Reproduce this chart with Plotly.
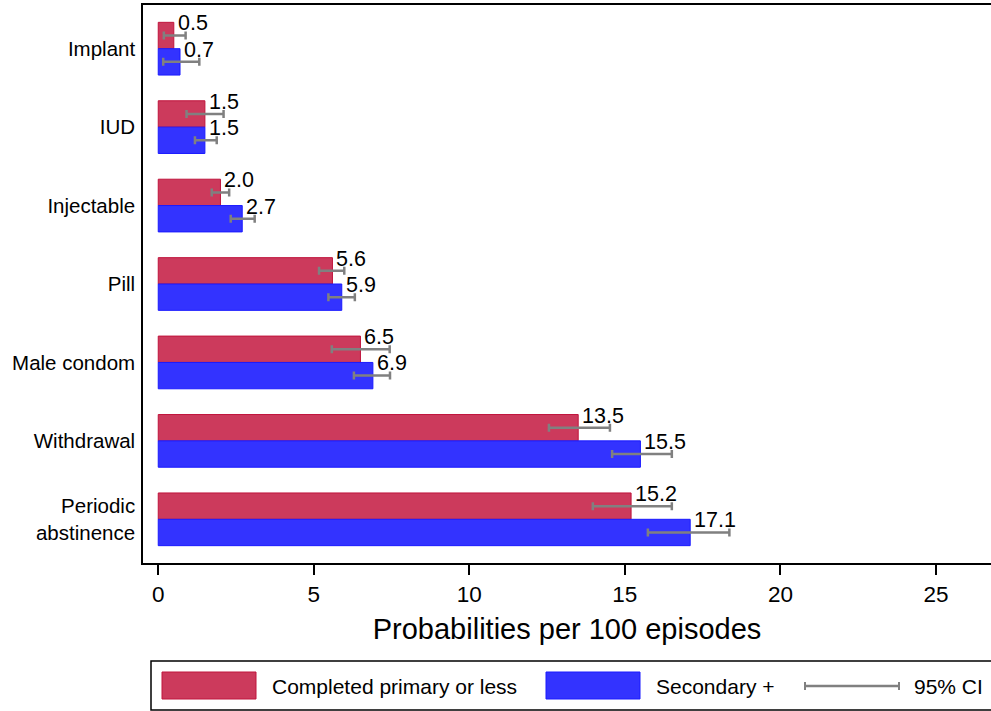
import plotly.graph_objects as go

# Contraceptive methods, top to bottom
methods = ["Implant", "IUD", "Injectable", "Pill", "Male condom", "Withdrawal",
           "Periodic<br>abstinence"]

# Completed primary or less
primary_val = [0.5, 1.5, 2.0, 5.6, 6.5, 13.5, 15.2]
primary_lo = [0.18, 0.91, 1.72, 5.17, 5.58, 12.56, 13.97]
primary_hi = [0.88, 2.10, 2.28, 5.98, 7.44, 14.52, 16.51]

# Secondary +
secondary_val = [0.7, 1.5, 2.7, 5.9, 6.9, 15.5, 17.1]
secondary_lo = [0.16, 1.18, 2.33, 5.47, 6.29, 14.59, 15.74]
secondary_hi = [1.32, 1.88, 3.10, 6.32, 7.45, 16.51, 18.36]

x_ticks = [0, 5, 10, 15, 20, 25]

RED_FILL, RED_EDGE = "#CC3A5C", "#C0143C"
BLUE_FILL, BLUE_EDGE = "#3333FF", "#1A1AFF"
CI_GREY = "#808080"
FONT = "Arial, Liberation Sans, sans-serif"

W, H = 991, 711
ML, MR, MT, MB = 143, 0, 5, 148
BAR_W = 0.336

pos = list(range(len(methods)))

fig = go.Figure()


def add_series(vals, lo, hi, fill, edge, offset, name):
    fig.add_trace(go.Bar(
        y=pos, x=vals, orientation="h", name=name,
        width=BAR_W, offset=offset,
        marker=dict(color=fill, line=dict(color=edge, width=1)),
        error_x=dict(type="data", symmetric=False,
                     array=[h - v for h, v in zip(hi, vals)],
                     arrayminus=[v - l for v, l in zip(vals, lo)],
                     color=CI_GREY, thickness=2.5, width=4),
        showlegend=False, hoverinfo="skip",
    ))


add_series(primary_val, primary_lo, primary_hi, RED_FILL, RED_EDGE, -BAR_W,
           "Completed primary or less")
add_series(secondary_val, secondary_lo, secondary_hi, BLUE_FILL, BLUE_EDGE, 0,
           "Secondary +")

# value labels sitting at the top edge of each bar's end
annotations = []
for i, v in enumerate(primary_val):
    annotations.append(dict(x=v, y=i - BAR_W, text=f"{v:.1f}", showarrow=False,
                            xanchor="left", yanchor="middle", xshift=2, yshift=-1,
                            font=dict(size=21.5, color="black", family=FONT)))
for i, v in enumerate(secondary_val):
    annotations.append(dict(x=v, y=i, text=f"{v:.1f}", showarrow=False,
                            xanchor="left", yanchor="middle", xshift=2, yshift=-1,
                            font=dict(size=21.5, color="black", family=FONT)))

# legend panel below the plot, laid out in pixel units
pw, ph = W - ML - MR, H - MT - MB


def px_x(p):
    return (p - ML) / pw


def px_y(p):
    return (H - MB - p) / ph


shapes = [
    dict(type="rect", xref="paper", yref="paper",
         x0=px_x(151), x1=px_x(1000), y0=px_y(661), y1=px_y(710),
         line=dict(color="black", width=1.5), fillcolor="white", layer="below"),
    dict(type="rect", xref="paper", yref="paper",
         x0=px_x(162), x1=px_x(256), y0=px_y(672), y1=px_y(699),
         line=dict(color=RED_EDGE, width=1), fillcolor=RED_FILL),
    dict(type="rect", xref="paper", yref="paper",
         x0=px_x(546), x1=px_x(640), y0=px_y(672), y1=px_y(699),
         line=dict(color=BLUE_EDGE, width=1), fillcolor=BLUE_FILL),
    dict(type="line", xref="paper", yref="paper",
         x0=px_x(805), x1=px_x(899), y0=px_y(686), y1=px_y(686),
         line=dict(color=CI_GREY, width=2.5)),
    dict(type="line", xref="paper", yref="paper",
         x0=px_x(805), x1=px_x(805), y0=px_y(682), y1=px_y(690),
         line=dict(color=CI_GREY, width=2)),
    dict(type="line", xref="paper", yref="paper",
         x0=px_x(899), x1=px_x(899), y0=px_y(682), y1=px_y(690),
         line=dict(color=CI_GREY, width=2)),
]

for label, xpx in [("Completed primary or less", 270), ("Secondary +", 654),
                   ("95% CI", 912)]:
    annotations.append(dict(xref="paper", yref="paper", x=px_x(xpx), y=px_y(686),
                            text=label, showarrow=False, xanchor="left",
                            yanchor="middle",
                            font=dict(size=21, color="black", family=FONT)))

fig.update_layout(
    width=W, height=H,
    margin=dict(l=ML, r=MR, t=MT, b=MB),
    paper_bgcolor="white", plot_bgcolor="white",
    barmode="overlay",
    font=dict(family=FONT, color="black"),
    annotations=annotations, shapes=shapes,
    xaxis=dict(range=[-0.49, 26.77], tickvals=x_ticks, showgrid=False,
               zeroline=False, showline=True, linecolor="black", linewidth=1.5,
               mirror=True, ticks="outside", ticklen=10, tickwidth=1.5,
               tickcolor="black", tickfont=dict(size=22.5, family=FONT),
               title=dict(text="Probabilities per 100 episodes",
                          font=dict(size=29, family=FONT), standoff=13)),
    yaxis=dict(range=[6.557, -0.557], tickvals=pos, ticktext=methods,
               showgrid=False, zeroline=False, showline=True, linecolor="black",
               linewidth=1.5, ticks="", ticklabelstandoff=2,
               tickfont=dict(size=20.5, family=FONT)),
)

fig.write_html("out.html")
